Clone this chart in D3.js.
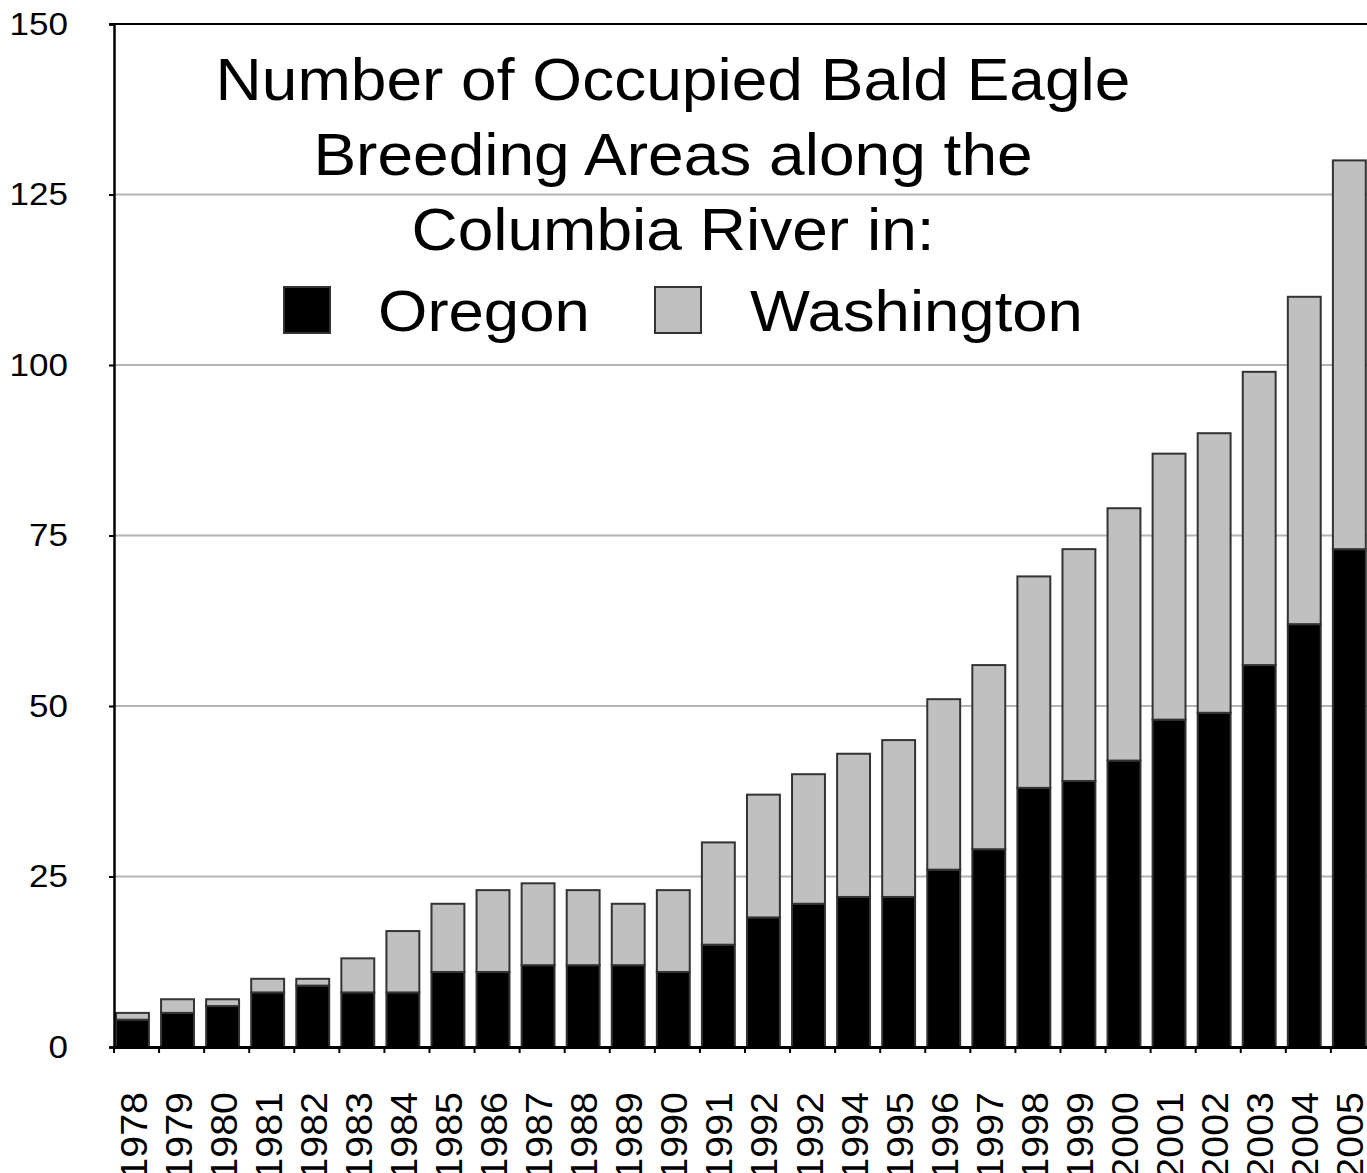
<!DOCTYPE html>
<html>
<head>
<meta charset="utf-8">
<script src="https://cdn.jsdelivr.net/npm/d3@7"></script>
<style>
  html, body { margin: 0; padding: 0; background: #fff; }
  svg { display: block; font-family: "Liberation Sans", Arial, sans-serif; }
</style>
</head>
<body>
<svg id="chart" width="1367" height="1173"></svg>
<script>
const years = ["1978","1979","1980","1981","1982","1983","1984","1985","1986","1987","1988","1989","1990","1991","1992","1992 ","1994","1995","1996","1997","1998","1999","2000","2001","2002","2003","2004","2005"];
const oregon =     [4, 5, 6, 8, 9, 8, 8, 11, 11, 12, 12, 12, 11, 15, 19, 21, 22, 22, 26, 29, 38, 39, 42, 48, 49, 56, 62, 73];
const washington = [1, 2, 1, 2, 1, 5, 9, 10, 12, 12, 11,  9, 12, 15, 18, 19, 21, 23, 25, 27, 31, 34, 37, 39, 41, 43, 48, 57];
const yTicks = [0, 25, 50, 75, 100, 125, 150];
const titleLines = ["Number of Occupied Bald Eagle", "Breeding Areas along the", "Columbia River in:"];
const seriesNames = ["Oregon", "Washington"];
const seriesColors = ["#000000", "#c0c0c0"];

const svg = d3.select("#chart");
const plotLeft = 114, plotTop = 24, plotBottom = 1047;
const step = 45.07;
const sx = 1.095; // horizontal widening of glyphs

const x = d3.scaleBand().domain(years).range([plotLeft, plotLeft + step * years.length]).padding(0);
const y = d3.scaleLinear().domain([0, 150]).range([plotBottom, plotTop]);

// gridlines
svg.append("g").selectAll("line").data(yTicks.filter(t => t > 0 && t < 150)).join("line")
  .attr("x1", plotLeft).attr("x2", 1367)
  .attr("y1", d => y(d)).attr("y2", d => y(d))
  .attr("stroke", "#b4b4b4").attr("stroke-width", 2);

// stacked data
const rows = years.map((yr, i) => ({year: yr, Oregon: oregon[i], Washington: washington[i]}));
const stack = d3.stack().keys(seriesNames)(rows);

const bw = x.bandwidth() * 0.73;
svg.append("g").selectAll("g").data(stack).join("g")
  .attr("fill", (d, i) => seriesColors[i])
  .selectAll("rect").data(d => d).join("rect")
  .attr("x", d => x(d.data.year) + 2)
  .attr("width", bw)
  .attr("y", d => y(d[1]))
  .attr("height", d => y(d[0]) - y(d[1]))
  .attr("stroke", "#333").attr("stroke-width", 2);

// top frame line
svg.append("line").attr("x1", plotLeft - 4).attr("x2", 1367).attr("y1", plotTop).attr("y2", plotTop)
  .attr("stroke", "#000").attr("stroke-width", 2);

// y axis
const yAxis = d3.axisLeft(y).tickValues(yTicks).tickSize(5).tickFormat(d3.format("d"));
const gy = svg.append("g").attr("transform", `translate(${plotLeft},0)`).call(yAxis);
gy.select(".domain").attr("stroke", "#000").attr("stroke-width", 2.5);
gy.selectAll(".tick line").attr("stroke", "#000").attr("stroke-width", 2);
gy.selectAll(".tick text").attr("font-size", 32).attr("fill", "#000")
  .attr("font-family", '"Liberation Sans", Arial, sans-serif')
  .attr("x", -46 / sx)
  .attr("transform", `scale(${sx},1)`);

// x axis
const xAxis = d3.axisBottom(x).tickSize(0).tickFormat("");
const gx = svg.append("g").attr("transform", `translate(0,${plotBottom})`).call(xAxis);
gx.select(".domain").attr("stroke", "#000").attr("stroke-width", 3);
gx.selectAll(".tick").remove();
gx.selectAll("line.bt").data(years).join("line").attr("class", "bt")
  .attr("x1", d => x(d)).attr("x2", d => x(d))
  .attr("y1", 0).attr("y2", 6)
  .attr("stroke", "#000").attr("stroke-width", 2);
svg.append("g").selectAll("text").data(years).join("text")
  .attr("transform", d => `translate(${x(d) + 32.5},1092) rotate(-90) scale(${sx},1)`)
  .attr("text-anchor", "end")
  .attr("font-size", 36)
  .attr("fill", "#000")
  .text(d => d.trim());

// title
const cx = 673;
svg.append("g").selectAll("text").data(titleLines).join("text")
  .attr("transform", (d, i) => `translate(${cx},${100 + i * 75}) scale(${sx},1)`)
  .attr("text-anchor", "middle").attr("font-size", 58.5).attr("fill", "#000")
  .text(d => d);

// legend
const legendX = [284, 655];
const legendTextX = [378, 750];
const lg = svg.append("g");
lg.selectAll("rect").data(seriesNames).join("rect")
  .attr("x", (d, i) => legendX[i]).attr("y", 287)
  .attr("width", 46).attr("height", 46)
  .attr("fill", (d, i) => seriesColors[i])
  .attr("stroke", "#333").attr("stroke-width", 2);
lg.selectAll("text").data(seriesNames).join("text")
  .attr("transform", (d, i) => `translate(${legendTextX[i]},331) scale(${sx},1)`)
  .attr("font-size", 58).attr("fill", "#000")
  .text(d => d);
</script>
</body>
</html>
